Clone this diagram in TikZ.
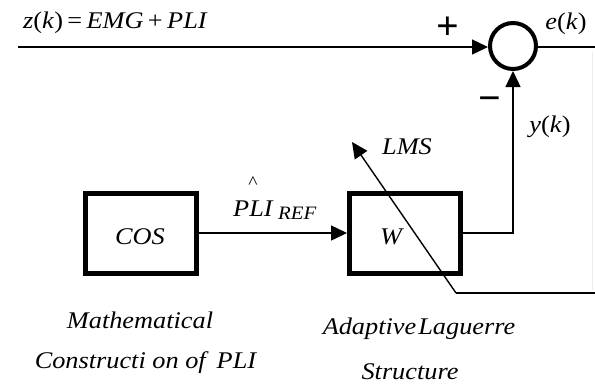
\documentclass[tikz,border=0pt]{standalone}
\usepackage{fontspec}
\setmainfont{Liberation Serif}
\usetikzlibrary{arrows.meta}
\newcommand{\iv}[1]{\textit{#1}}
\tikzset{
  blockbox/.style={draw, line width=5bp, minimum width=111bp, minimum height=80bp, inner sep=0pt},
  sumnode/.style={draw, circle, line width=4bp, minimum size=46bp, inner sep=0pt},
  wire/.style={line width=1.4bp},
  tip/.style={-{Triangle[length=16bp,width=15bp]}},
  lbl/.style={inner sep=0pt, xscale=1.1, font=\fontsize{24}{27}\selectfont},
  signlbl/.style={inner sep=0pt, font=\fontsize{40}{40}\selectfont\bfseries},
}
\begin{document}
\begin{tikzpicture}[x=1bp,y=-1bp]
\useasboundingbox (0,0) rectangle (595,386);
\node[sumnode] (sum) at (513,46) {};
\node[blockbox] (cos) at (141,233) {};
\node[blockbox] (w) at (405,233) {};
\coordinate (zin) at (18,47);
\coordinate (eout) at (595,47);
\coordinate (yk) at (513,233);
\coordinate (lmsA) at (456,293);
\coordinate (lmsB) at (352,142);
\coordinate (fb) at (595,293);
\coordinate (edgeT) at (592,52);
\coordinate (edgeB) at (592,290);
% wires
\draw[wire,tip] (zin) -- (sum.west |- zin);
\draw[wire] (sum.east |- eout) -- (eout);
\draw[wire,tip] (cos.east) -- (w.west);
\draw[wire,tip] (w.east) -- (yk) -- (sum.south);
\draw[wire,tip] (lmsA) -- (lmsB);
\draw[wire] (lmsA) -- (fb);
\draw[line width=1bp, black!7] (edgeT) -- (edgeB);
% labels
\node[lbl, anchor=base west] (zlab) at (23,28) {\iv{z}(\iv{k})\,=\,\iv{EMG}\,+\,\iv{PLI}};
\node[signlbl] (plus) at (448,28) {+};
\node[signlbl] (minus) at (490,104) {−};
\node[lbl] (elab) at (566,24) {\iv{e}(\iv{k})};
\node[lbl] (ylab) at (550,127) {\iv{y}(\iv{k})};
\node[lbl] (lmslab) at (407,147) {\iv{LMS}};
\node[lbl] (wlab) at (392,237) {\iv{W}};
\node[lbl] (coslab) at (140,237) {\iv{COS}};
\node[lbl, anchor=base west] (plilab) at (233,216) {\iv{PLI}\,{\fontsize{19}{21}\selectfont\raisebox{-3bp}{\iv{REF}}}};
\node[lbl, font=\fontsize{18}{20}\selectfont] (hat) at (253,183) {\textasciicircum};
\node[lbl] (math1) at (140,320) {\iv{Mathematical}};
\node[lbl] (math2) at (146,363) {\iv{Constructi on of\, PLI}};
\node[lbl] (ad1) at (419,329) {\iv{Adaptive\hspace{0.08em}Laguerre}};
\node[lbl] (ad2) at (410,372) {\iv{Structure}};
\end{tikzpicture}
\end{document}
